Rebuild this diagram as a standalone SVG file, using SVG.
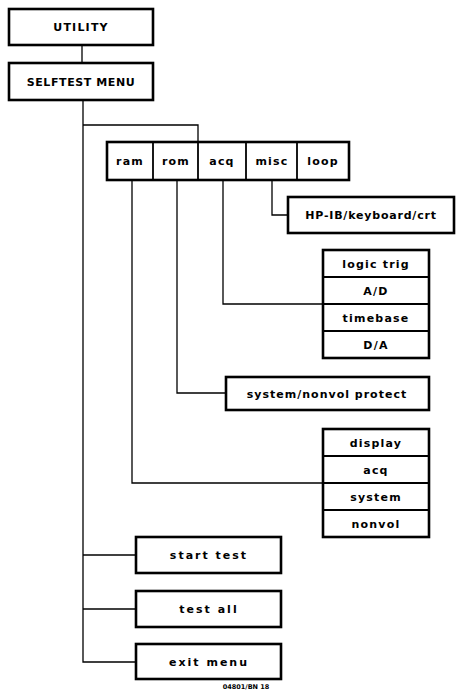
<svg xmlns="http://www.w3.org/2000/svg" width="460" height="691" viewBox="0 0 460 691">
<style>
.box{fill:#fff;stroke:#000;stroke-width:2.6}
.div{stroke:#000;stroke-width:1.8;fill:none}
.con{stroke:#000;stroke-width:1.3;fill:none}
text{font-family:"DejaVu Sans","Liberation Sans",sans-serif;font-size:11px;font-weight:bold;fill:#000;text-anchor:middle;letter-spacing:1.2px}
.cap{font-size:6.5px;letter-spacing:0}
</style>
<rect width="460" height="691" fill="#fff"/>
<g id="connectors">
<line class="con" x1="82" y1="45" x2="82" y2="63"/>
<polyline class="con" points="83,100 83,662 136,662"/>
<line class="con" x1="83" y1="555" x2="136" y2="555"/>
<line class="con" x1="83" y1="609" x2="136" y2="609"/>
<polyline class="con" points="83,125 198,125 198,143"/>
<polyline class="con" points="272,180 272,215 288,215"/>
<polyline class="con" points="223,180 223,304 323,304"/>
<polyline class="con" points="177,180 177,393 226,393"/>
<polyline class="con" points="132,180 132,483 323,483"/>
</g>
<g id="utility"><rect class="box" x="9" y="9" width="144" height="36"/><text x="81" y="31">UTILITY</text></g>
<g id="selftest"><rect class="box" x="9" y="63" width="144" height="37"/><text x="81" y="86" style="letter-spacing:0.6px">SELFTEST MENU</text></g>
<g id="menu-row">
<rect class="box" x="107" y="142" width="242" height="38"/>
<line class="div" x1="153" y1="142" x2="153" y2="180"/>
<line class="div" x1="198" y1="142" x2="198" y2="180"/>
<line class="div" x1="246" y1="142" x2="246" y2="180"/>
<line class="div" x1="297" y1="142" x2="297" y2="180"/>
</g>
<g id="ram"><text x="130" y="165">ram</text></g>
<g id="rom"><text x="176" y="165">rom</text></g>
<g id="acq"><text x="222" y="165">acq</text></g>
<g id="misc"><text x="272" y="165">misc</text></g>
<g id="loop"><text x="323" y="165">loop</text></g>
<g id="hpib"><rect class="box" x="288" y="197" width="166" height="36"/><text x="371" y="219" style="letter-spacing:0.8px">HP-IB/keyboard/crt</text></g>
<g id="acq-stack">
<rect class="box" x="323" y="250" width="106" height="108"/>
<line class="div" x1="323" y1="277" x2="429" y2="277"/>
<line class="div" x1="323" y1="304" x2="429" y2="304"/>
<line class="div" x1="323" y1="331" x2="429" y2="331"/>
<text x="376" y="268">logic trig</text>
<text x="376" y="295">A/D</text>
<text x="376" y="322">timebase</text>
<text x="376" y="349">D/A</text>
</g>
<g id="sysprotect"><rect class="box" x="226" y="377" width="203" height="33"/><text x="327" y="398" style="letter-spacing:1px">system/nonvol protect</text></g>
<g id="ram-stack">
<rect class="box" x="323" y="429" width="106" height="108"/>
<line class="div" x1="323" y1="456" x2="429" y2="456"/>
<line class="div" x1="323" y1="483" x2="429" y2="483"/>
<line class="div" x1="323" y1="510" x2="429" y2="510"/>
<text x="376" y="447">display</text>
<text x="376" y="474">acq</text>
<text x="376" y="501">system</text>
<text x="376" y="528">nonvol</text>
</g>
<g id="start-test"><rect class="box" x="136" y="537" width="145" height="36"/><text x="209" y="559" style="letter-spacing:2px">start test</text></g>
<g id="test-all"><rect class="box" x="136" y="591" width="145" height="36"/><text x="209" y="613" style="letter-spacing:2px">test all</text></g>
<g id="exit-menu"><rect class="box" x="136" y="644" width="145" height="35"/><text x="209" y="666" style="letter-spacing:2px">exit menu</text></g>
<text class="cap" x="246" y="689">04801/BN 18</text>
</svg>
